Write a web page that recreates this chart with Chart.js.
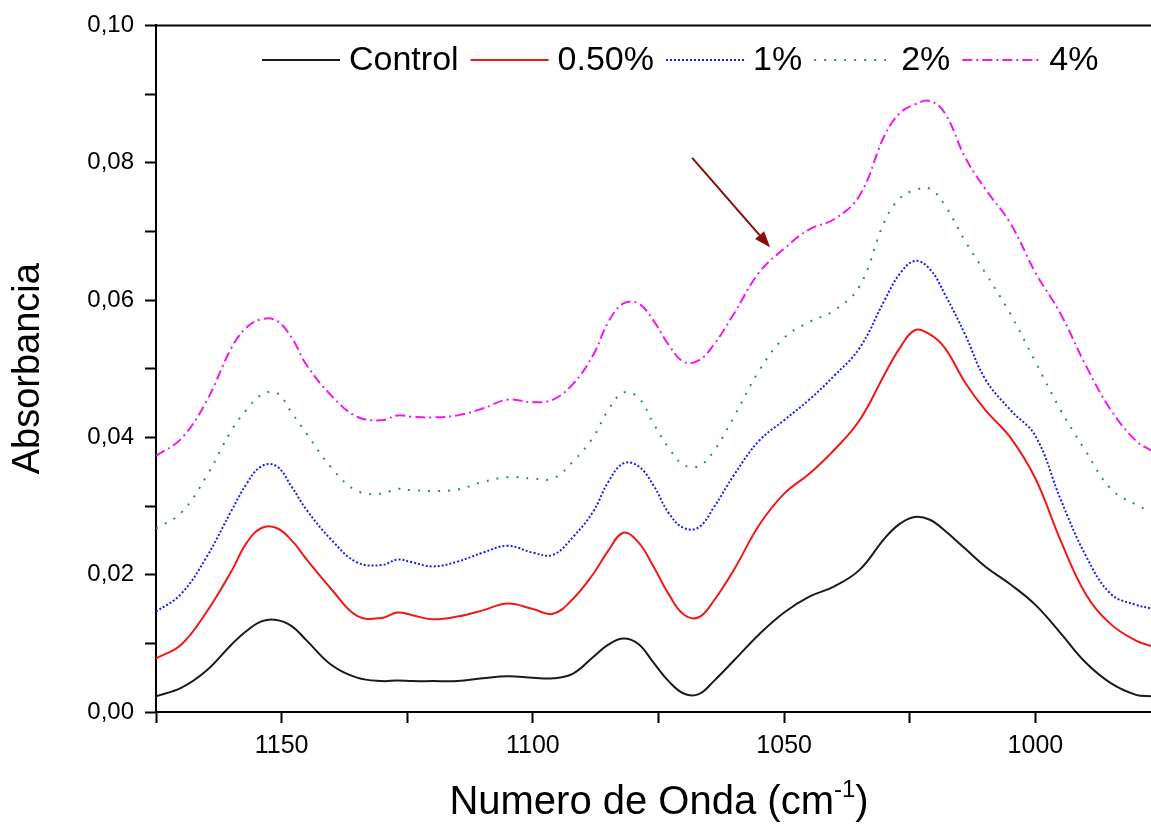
<!DOCTYPE html>
<html>
<head>
<meta charset="utf-8">
<script src="https://cdn.jsdelivr.net/npm/chart.js@4"></script>
<style>
  html, body { margin: 0; padding: 0; background: #fff; }
  canvas { display: block; }
</style>
</head>
<body>
<canvas id="grafico" width="1151" height="831"></canvas>
<script>
// numero de onda (cm-1), eje invertido
const numeroOnda = [1175, 1170, 1165, 1160, 1157, 1154, 1151, 1148, 1145, 1140,
                    1135, 1130, 1127, 1124, 1120, 1115, 1110, 1105, 1100, 1096,
                    1092, 1088, 1085, 1082, 1079, 1076, 1073, 1070, 1067, 1064,
                    1060, 1055, 1050, 1045, 1040, 1035, 1030, 1027, 1024, 1021,
                    1018, 1014, 1010, 1005, 1000, 995, 990, 985, 980, 977];

// absorbancia de cada muestra
const control = [0.0023, 0.0035, 0.0060, 0.0098, 0.0118, 0.0132, 0.0134, 0.0125, 0.0104, 0.0068,
                 0.0050, 0.0045, 0.0046, 0.0045, 0.0045, 0.0045, 0.0049, 0.0052, 0.0050, 0.0049,
                 0.0056, 0.0080, 0.0098, 0.0107, 0.0099, 0.0072, 0.0045, 0.0027, 0.0026, 0.0045,
                 0.0075, 0.0113, 0.0145, 0.0168, 0.0183, 0.0207, 0.0253, 0.0274, 0.0284, 0.0280,
                 0.0264, 0.0238, 0.0212, 0.0186, 0.0156, 0.0115, 0.0072, 0.0042, 0.0025, 0.0023];
const p050 = [0.0078, 0.0098, 0.0145, 0.0205, 0.0246, 0.0268, 0.0268, 0.0250, 0.0222, 0.0178,
              0.0140, 0.0137, 0.0145, 0.0141, 0.0135, 0.0139, 0.0148, 0.0158, 0.0150, 0.0143,
              0.0165, 0.0201, 0.0235, 0.0261, 0.0247, 0.0212, 0.0172, 0.0142, 0.0138, 0.0162,
              0.0207, 0.0272, 0.0318, 0.0347, 0.0382, 0.0425, 0.0492, 0.0530, 0.0556, 0.0550,
              0.0530, 0.0480, 0.0440, 0.0400, 0.0340, 0.0250, 0.0172, 0.0128, 0.0104, 0.0096];
const p1 = [0.0146, 0.0172, 0.0225, 0.0293, 0.0332, 0.0358, 0.0358, 0.0328, 0.0294, 0.0250,
            0.0218, 0.0214, 0.0222, 0.0218, 0.0212, 0.0219, 0.0232, 0.0242, 0.0232, 0.0229,
            0.0255, 0.0292, 0.0335, 0.0362, 0.0358, 0.0330, 0.0290, 0.0268, 0.0269, 0.0298,
            0.0345, 0.0395, 0.0425, 0.0455, 0.0490, 0.0530, 0.0600, 0.0638, 0.0657, 0.0645,
            0.0608, 0.0550, 0.0485, 0.0440, 0.0402, 0.0310, 0.0228, 0.0172, 0.0156, 0.0151];
const p2 = [0.0267, 0.0290, 0.0343, 0.0410, 0.0440, 0.0462, 0.0465, 0.0436, 0.0405, 0.0355,
            0.0322, 0.0318, 0.0325, 0.0323, 0.0322, 0.0324, 0.0335, 0.0342, 0.0340, 0.0340,
            0.0365, 0.0400, 0.0440, 0.0465, 0.0458, 0.0420, 0.0385, 0.0360, 0.0358, 0.0380,
            0.0430, 0.0497, 0.0545, 0.0568, 0.0585, 0.0620, 0.0715, 0.0748, 0.0760, 0.0762,
            0.0738, 0.0686, 0.0640, 0.0580, 0.0510, 0.0440, 0.0380, 0.0325, 0.0302, 0.0292];
const p4 = [0.0373, 0.0398, 0.0452, 0.0530, 0.0560, 0.0572, 0.0570, 0.0545, 0.0505, 0.0460,
            0.0430, 0.0425, 0.0432, 0.0430, 0.0429, 0.0432, 0.0442, 0.0455, 0.0451, 0.0455,
            0.0478, 0.0520, 0.0568, 0.0595, 0.0595, 0.0570, 0.0535, 0.0510, 0.0512, 0.0535,
            0.0580, 0.0640, 0.0675, 0.0703, 0.0718, 0.0752, 0.0840, 0.0872, 0.0885, 0.0890,
            0.0872, 0.0808, 0.0762, 0.0712, 0.0640, 0.0580, 0.0505, 0.0440, 0.0395, 0.0381];

const etiquetas = ['Control', '0.50%', '1%', '2%', '4%'];

// marcas de los ejes
const ticksX = [1150, 1100, 1050, 1000];
const ticksXMenores = [1175, 1125, 1075, 1025];
const ticksY = [0, 0.02, 0.04, 0.06, 0.08, 0.10];
const ticksYMenores = [0.01, 0.03, 0.05, 0.07, 0.09];

// flecha (numero de onda, absorbancia)
const flechaDesde = [1068.3, 0.0807];
const flechaHasta = [1052.8, 0.0677];

const fuente = "'Liberation Sans', Arial, sans-serif";

function puntos(valores) {
    return numeroOnda.map((x, i) => ({ x: x, y: valores[i] }));
}

function serie(label, valores, color, dash) {
    return {
        label: label,
        data: puntos(valores),
        borderColor: color,
        backgroundColor: color,
        borderWidth: 2,
        borderDash: dash,
        pointRadius: 0,
        tension: 0.4,
        fill: false
    };
}

// marco, titulo del eje x, leyenda y flecha
const decoracion = {
    id: 'decoracion',
    afterDraw(chart) {
        const { ctx, chartArea: a, scales } = chart;
        ctx.save();

        ctx.strokeStyle = '#000';
        ctx.lineWidth = 2;
        ctx.beginPath();
        ctx.moveTo(a.left - 1, a.top);
        ctx.lineTo(a.right, a.top);
        ctx.stroke();

        // titulo eje x con superindice
        const base = 'Numero de Onda (cm', sup = '-1', fin = ')';
        ctx.fillStyle = '#000';
        ctx.textBaseline = 'alphabetic';
        ctx.font = '40px ' + fuente;
        const w1 = ctx.measureText(base).width;
        const w3 = ctx.measureText(fin).width;
        ctx.font = '24px ' + fuente;
        const w2 = ctx.measureText(sup).width;
        let xs = 659 - (w1 + w2 + w3) / 2;
        const yb = 814;
        ctx.font = '40px ' + fuente;
        ctx.fillText(base, xs, yb);
        ctx.font = '24px ' + fuente;
        ctx.fillText(sup, xs + w1, yb - 17);
        ctx.font = '40px ' + fuente;
        ctx.fillText(fin, xs + w1 + w2, yb);

        // leyenda
        let lx = 262;
        const ly = 60;
        ctx.font = '34px ' + fuente;
        ctx.textBaseline = 'middle';
        chart.data.datasets.forEach(ds => {
            ctx.strokeStyle = ds.borderColor;
            ctx.lineWidth = ds.borderWidth;
            ctx.setLineDash(ds.borderDash || []);
            ctx.beginPath();
            ctx.moveTo(lx, ly);
            ctx.lineTo(lx + 78, ly);
            ctx.stroke();
            ctx.setLineDash([]);
            ctx.fillStyle = '#000';
            ctx.fillText(ds.label, lx + 87, ly + 1);
            lx += 87 + ctx.measureText(ds.label).width + 12;
        });

        // flecha
        const x0 = scales.x.getPixelForValue(flechaDesde[0]);
        const y0 = scales.y.getPixelForValue(flechaDesde[1]);
        const x1 = scales.x.getPixelForValue(flechaHasta[0]);
        const y1 = scales.y.getPixelForValue(flechaHasta[1]);
        const ang = Math.atan2(y1 - y0, x1 - x0);
        const largo = 16, ancho = 6;
        const bx = x1 - largo * Math.cos(ang), by = y1 - largo * Math.sin(ang);
        ctx.strokeStyle = '#8b0a0a';
        ctx.fillStyle = '#8b0a0a';
        ctx.lineWidth = 2;
        ctx.beginPath();
        ctx.moveTo(x0, y0);
        ctx.lineTo(bx, by);
        ctx.stroke();
        ctx.beginPath();
        ctx.moveTo(x1, y1);
        ctx.lineTo(bx + ancho * Math.sin(ang), by - ancho * Math.cos(ang));
        ctx.lineTo(bx - ancho * Math.sin(ang), by + ancho * Math.cos(ang));
        ctx.closePath();
        ctx.fill();

        ctx.restore();
    }
};

const ctx = document.getElementById('grafico').getContext('2d');

new Chart(ctx, {
    type: 'line',
    data: {
        datasets: [
            serie(etiquetas[0], control, '#1a1a1a', []),
            serie(etiquetas[1], p050, '#f01818', []),
            serie(etiquetas[2], p1, '#1a1aff', [2, 2]),
            serie(etiquetas[3], p2, '#2e8a7c', [2, 8]),
            serie(etiquetas[4], p4, '#f01af0', [10, 4, 2, 4])
        ]
    },
    options: {
        responsive: false,
        animation: false,
        devicePixelRatio: 1,
        layout: { padding: { top: 22, right: 0, bottom: 0, left: 0 } },
        plugins: {
            legend: { display: false },
            tooltip: { enabled: false }
        },
        scales: {
            x: {
                type: 'linear',
                reverse: true,
                min: 977,
                max: 1175,
                afterBuildTicks: s => {
                    s.ticks = ticksX.concat(ticksXMenores).sort((a, b) => a - b).map(v => ({ value: v }));
                },
                afterFit: s => { s.height = 119; },
                grid: { drawOnChartArea: false, tickLength: 11, tickColor: '#000', tickWidth: 2 },
                border: { color: '#000', width: 2 },
                ticks: {
                    color: '#000',
                    padding: 8,
                    maxRotation: 0,
                    autoSkip: false,
                    font: { family: fuente, size: 25 },
                    callback: v => ticksX.includes(v) ? String(v) : ''
                }
            },
            y: {
                min: 0,
                max: 0.1,
                afterBuildTicks: s => {
                    s.ticks = ticksY.concat(ticksYMenores).sort((a, b) => a - b).map(v => ({ value: v }));
                },
                afterFit: s => { s.width = 156; },
                grid: { drawOnChartArea: false, tickLength: 11, tickColor: '#000', tickWidth: 2 },
                border: { color: '#000', width: 2 },
                ticks: {
                    color: '#000',
                    padding: 11,
                    autoSkip: false,
                    font: { family: fuente, size: 24 },
                    callback: v => ticksY.some(t => Math.abs(t - v) < 1e-9) ? v.toFixed(2).replace('.', ',') : ''
                },
                title: {
                    display: true,
                    text: 'Absorbancia',
                    color: '#000',
                    font: { family: fuente, size: 38 },
                    padding: { top: 6, bottom: 0 }
                }
            }
        }
    },
    plugins: [decoracion]
});
</script>
</body>
</html>
